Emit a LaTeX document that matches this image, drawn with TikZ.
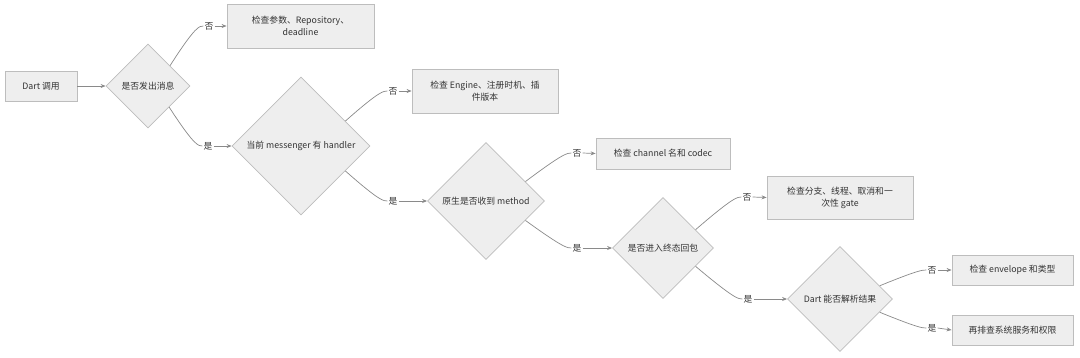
\documentclass[tikz,border=0pt]{standalone}
\usepackage{fontspec}
\setmainfont{Noto Sans CJK SC}
\usetikzlibrary{shapes.geometric,arrows.meta,calc}
\definecolor{nodefill}{HTML}{EEEEEE}
\definecolor{nodeline}{HTML}{BDBDBD}
\definecolor{edgecol}{HTML}{8A8A8A}
\definecolor{txt}{HTML}{333333}
\begin{document}
\begin{tikzpicture}[x=1pt,y=-1pt,
  every node/.style={font=\fontsize{8.8}{12}\selectfont, text=txt},
  boxnode/.style={draw=nodeline, fill=nodefill, line width=0.8pt, align=center, inner sep=2pt},
  decision/.style={draw=nodeline, fill=nodefill, line width=0.8pt, diamond, aspect=1, inner sep=0pt, align=center},
  lbl/.style={fill=white, inner sep=1pt},
  edge/.style={draw=edgecol, line width=0.7pt},
  arr/.style={edge, -{Stealth[length=5pt,width=4pt]}}]
\useasboundingbox (0,0) rectangle (1080,357);

% process boxes
\node[boxnode, minimum width=72pt, minimum height=30pt] (start) at (41,86) {Dart 调用};
\node[boxnode, minimum width=147pt, minimum height=44pt] (b1) at (300.5,26) {检查参数、Repository、\\deadline};
\node[boxnode, minimum width=146pt, minimum height=44pt] (b2) at (485,91) {检查 Engine、注册时机、插\\件版本};
\node[boxnode, minimum width=134pt, minimum height=31pt] (b3) at (663,153.5) {检查 channel 名和 codec};
\node[boxnode, minimum width=146pt, minimum height=43pt] (b4) at (840,197.5) {检查分支、线程、取消和一\\次性 gate};
\node[boxnode, minimum width=121pt, minimum height=30pt] (b5) at (1012.5,270) {检查 envelope 和类型};
\node[boxnode, minimum width=121pt, minimum height=30pt] (b6) at (1012.5,330) {再排查系统服务和权限};

% decisions
\node[decision, minimum size=84pt] (d1) at (148,86) {是否发出消息};
\node[decision, minimum size=138pt] (d2) at (301,146) {当前 messenger 有 handler};
\node[decision, minimum size=117pt] (d3) at (486,201) {原生是否收到 method};
\node[decision, minimum size=101pt] (d4) at (663,248) {是否进入终态回包};
\node[decision, minimum size=105pt] (d5) at (840,299) {Dart 能否解析结果};

% edge labels
\node[lbl] (l1n) at (209,26) {否};
\node[lbl] (l1y) at (208,146) {是};
\node[lbl] (l2n) at (393,91) {否};
\node[lbl] (l2y) at (393,201) {是};
\node[lbl] (l3n) at (577,153) {否};
\node[lbl] (l3y) at (577,248) {是};
\node[lbl] (l4n) at (747,197) {否};
\node[lbl] (l4y) at (748,299) {是};
\node[lbl] (l5n) at (932,270) {否};
\node[lbl] (l5y) at (932,328) {是};

% start points on diamond sides
\coordinate (s1n) at ($(d1.north)!0.52!(d1.east)$);
\coordinate (s1y) at ($(d1.east)!0.5!(d1.south)$);
\coordinate (s2n) at ($(d2.north)!0.64!(d2.east)$);
\coordinate (s2y) at ($(d2.east)!0.36!(d2.south)$);
\coordinate (s3n) at ($(d3.north)!0.67!(d3.east)$);
\coordinate (s3y) at ($(d3.east)!0.33!(d3.south)$);
\coordinate (s4n) at ($(d4.north)!0.64!(d4.east)$);
\coordinate (s4y) at ($(d4.east)!0.36!(d4.south)$);
\coordinate (s5n) at ($(d5.north)!0.75!(d5.east)$);
\coordinate (s5y) at ($(d5.east)!0.25!(d5.south)$);

% connectors: diagonal run that bends into the label
\foreach \s/\l in {s1n/l1n, s1y/l1y, s2n/l2n, s2y/l2y, s3n/l3n, s3y/l3y, s4n/l4n, s4y/l4y, s5n/l5n, s5y/l5y}{
  \draw[edge] (\s) .. controls ($(\l.west)+(-8,0)$) and ($(\l.west)+(-4,0)$) .. (\l.west);
}
\draw[arr] (start.east) -- (d1.west);
\draw[arr] (l1n.east) -- (b1.west);
\draw[arr] (l1y.east) -- (d2.west);
\draw[arr] (l2n.east) -- (b2.west);
\draw[arr] (l2y.east) -- (d3.west);
\draw[arr] (l3n.east) -- (b3.west);
\draw[arr] (l3y.east) -- (d4.west);
\draw[arr] (l4n.east) -- (b4.west);
\draw[arr] (l4y.east) -- (d5.west);
\draw[arr] (l5n.east) -- (b5.west);
\draw[arr] (l5y.east) -- (b6.west);
\end{tikzpicture}
\end{document}
